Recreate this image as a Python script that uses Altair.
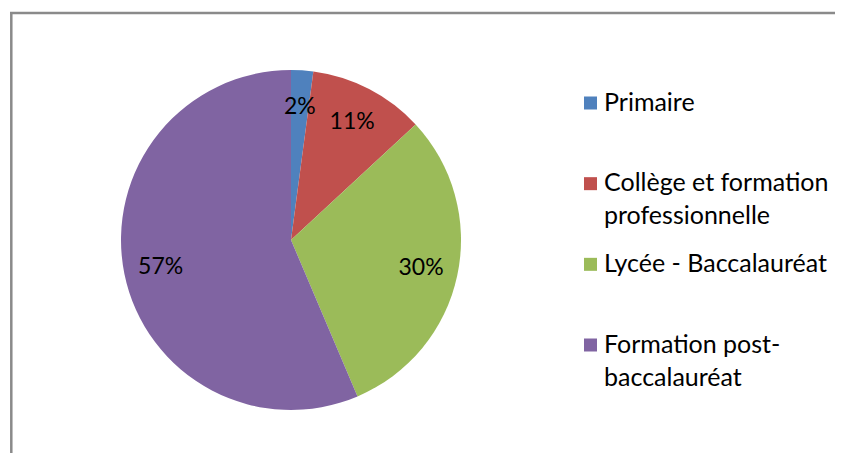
import altair as alt
import pandas as pd

categories = ["Primaire", "Collège et formation professionnelle", "Lycée - Baccalauréat", "Formation post-baccalauréat"]
legend_text = ["Primaire", "Collège et formation\nprofessionnelle", "Lycée - Baccalauréat", "Formation post-\nbaccalauréat"]
values = [2.1, 11.0, 30.5, 56.4]
pct_labels = ["2%", "11%", "30%", "57%"]
colors = ["#4F81BD", "#C0504D", "#9BBB59", "#8064A2"]

df = pd.DataFrame({
    "cat": categories,
    "value": values,
    "label": pct_labels,
    "legend": legend_text,
    "idx": list(range(len(categories))),
})

FONT = "Lato"
CX, CY, R = 283, 232, 170

color = alt.Color("cat:N", scale=alt.Scale(domain=categories, range=colors), legend=None)

base = alt.Chart(df).encode(
    theta=alt.Theta("value:Q", stack=True),
    order=alt.Order("idx:Q"),
)

arcs = base.mark_arc(radius=R).encode(
    color=color, x=alt.value(CX), y=alt.value(CY)
)

labels = base.mark_text(radius=133, font=FONT, fontSize=23, color="#000000").encode(
    text="label:N", x=alt.value(CX), y=alt.value(CY)
)

yscale = alt.Scale(domain=[0, 3], range=[95, 337])

leg_sq = alt.Chart(df).mark_square(size=169, opacity=1).encode(
    x=alt.value(582.5),
    y=alt.Y("idx:Q", scale=yscale, axis=None),
    color=color,
)

leg_txt = alt.Chart(df).mark_text(
    align="left", baseline="alphabetic", dy=7.5, lineBreak="\n", lineHeight=33,
    font=FONT, fontSize=25, color="#000000"
).encode(
    x=alt.value(596),
    y=alt.Y("idx:Q", scale=yscale, axis=None),
    text="legend:N",
)

frame_df = pd.DataFrame({"a": [0]})
left_border = alt.Chart(frame_df).mark_rule(color="#8a8a8a", strokeWidth=2.5).encode(
    x=alt.value(3.3), y=alt.value(4), y2=alt.value(460)
)
top_border = alt.Chart(frame_df).mark_rule(color="#8a8a8a", strokeWidth=2.5).encode(
    x=alt.value(2), x2=alt.value(840), y=alt.value(5.0)
)

chart = alt.layer(arcs, labels, leg_sq, leg_txt, left_border, top_border).properties(
    width=827, height=445, padding=0, autosize=alt.AutoSizeParams(type="none")
).configure_view(stroke=None)

chart.save("out.html", embed_options={"renderer": "svg", "actions": False})
